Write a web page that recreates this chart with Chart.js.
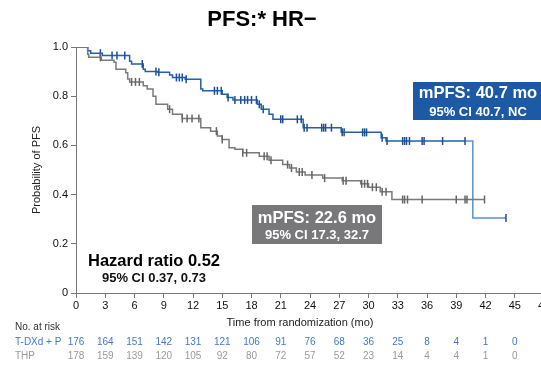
<!DOCTYPE html>
<html>
<head>
<meta charset="utf-8">
<script src="https://cdn.jsdelivr.net/npm/chart.js@4.4.1/dist/chart.umd.min.js"></script>
<style>
  html, body { margin: 0; padding: 0; background: #fff; overflow: hidden; }
  #wrap { position: absolute; left: 0; top: 0; width: 560px; height: 372px; }
</style>
</head>
<body>
<div id="wrap"><canvas id="c"></canvas></div>
<script>
// Kaplan-Meier PFS, HR-negative subgroup
const timeTicks = [0, 3, 6, 9, 12, 15, 18, 21, 24, 27, 30, 33, 36, 39, 42, 45];
const riskTDXd = [176, 164, 151, 142, 131, 121, 106, 91, 76, 68, 36, 25, 8, 4, 1, 0];
const riskTHP  = [178, 159, 139, 120, 105, 92, 80, 72, 57, 52, 23, 14, 4, 4, 1, 0];

// T-DXd + P: event times (mo) and survival after each event
const tdxdEventTimes = [1.2, 1.5, 2.7, 5.5, 5.7, 6.9, 7.1, 8.4, 9.6, 9.9, 11.2, 12.8, 13.0, 15.0, 15.5, 16.1, 18.6, 19.0, 19.8, 20.2, 23.3, 27.2, 31.3, 31.8, 40.7];
const tdxdSurvival   = [0.985, 0.975, 0.965, 0.942, 0.931, 0.910, 0.900, 0.897, 0.886, 0.876, 0.869, 0.829, 0.822, 0.808, 0.795, 0.785, 0.767, 0.747, 0.727, 0.706, 0.672, 0.653, 0.631, 0.618, 0.305];
const tdxdCensorTimes = [2.5, 3.7, 4.2, 5.0, 6.8, 8.2, 8.5, 10.3, 10.6, 10.9, 11.3, 14.2, 14.5, 14.9, 15.6, 16.3, 16.9, 17.3, 17.6, 18.0, 18.5, 18.8, 19.2, 21.0, 21.2, 22.7, 23.1, 23.4, 23.7, 25.2, 25.4, 25.6, 26.2, 27.3, 27.5, 29.4, 29.6, 29.8, 31.4, 31.9, 33.5, 33.7, 33.9, 34.2, 35.5, 35.7, 37.6, 39.9, 44.1];

// THP: event times (mo) and survival after each event
const thpEventTimes = [1.2, 1.3, 2.6, 3.9, 4.1, 5.1, 5.3, 5.5, 6.9, 7.3, 7.9, 8.2, 9.4, 9.9, 10.9, 12.8, 13.8, 14.5, 15.0, 15.7, 16.3, 17.1, 18.8, 19.8, 21.2, 21.9, 22.6, 23.5, 25.3, 27.3, 29.2, 30.0, 31.2, 32.4];
const thpSurvival   = [0.971, 0.958, 0.946, 0.938, 0.910, 0.895, 0.870, 0.858, 0.842, 0.829, 0.800, 0.767, 0.747, 0.727, 0.709, 0.672, 0.658, 0.638, 0.624, 0.590, 0.584, 0.570, 0.556, 0.540, 0.522, 0.508, 0.492, 0.480, 0.467, 0.456, 0.444, 0.430, 0.412, 0.380];
const thpCensorTimes = [2.5, 5.7, 6.1, 6.5, 9.6, 10.9, 11.4, 11.9, 12.6, 14.4, 15.0, 17.1, 17.5, 19.3, 19.6, 20.0, 21.7, 22.1, 22.9, 23.2, 24.2, 25.5, 27.4, 27.7, 29.3, 29.6, 29.9, 30.4, 30.8, 31.4, 31.8, 33.5, 33.7, 34.0, 35.5, 39.0, 39.9, 40.1, 41.9];

const FONT = '"Liberation Sans", Arial, Helvetica, sans-serif';
const BLUE = '#2360ad';
const BLUE_DARK = '#1b4f99';
const BLUE_LIGHT = '#5b90d2';
const GREY = '#7a7a7a';
const GREY_DARK = '#666666';

// step-function value at time t
function survivalAt(times, surv, t) {
  let s = 1;
  for (let i = 0; i < times.length; i++) {
    if (times[i] <= t) s = surv[i]; else break;
  }
  return s;
}

// merge events and censorings into one sorted point list
function buildCurve(times, surv, censors) {
  const pts = [{ x: 0, y: 1, censor: false }];
  times.forEach((t, i) => pts.push({ x: t, y: surv[i], censor: false }));
  censors.forEach(t => pts.push({ x: t, y: survivalAt(times, surv, t), censor: true }));
  pts.sort((a, b) => a.x - b.x || (a.censor - b.censor));
  return pts;
}

const tdxdCurve = buildCurve(tdxdEventTimes, tdxdSurvival, tdxdCensorTimes);
const thpCurve = buildCurve(thpEventTimes, thpSurvival, thpCensorTimes);

// text drawn around the plot: title, axis titles, annotation boxes, risk table
const decorations = {
  id: 'decorations',
  afterDraw(chart) {
    const ctx = chart.ctx;
    const xs = chart.scales.x;
    ctx.save();
    ctx.textBaseline = 'middle';

    ctx.fillStyle = '#000';
    ctx.textAlign = 'center';
    ctx.font = 'bold 22px ' + FONT;
    ctx.fillText('PFS:* HR\u2212', 262, 20);

    ctx.save();
    ctx.translate(37, 170);
    ctx.rotate(-Math.PI / 2);
    ctx.font = '11px ' + FONT;
    ctx.fillStyle = '#222';
    ctx.fillText('Probability of PFS', 0, 0);
    ctx.restore();

    ctx.font = '11px ' + FONT;
    ctx.fillStyle = '#222';
    ctx.fillText('Time from randomization (mo)', 300, 323);

    // median annotation boxes
    ctx.fillStyle = '#1d5aa6';
    ctx.fillRect(413, 82, 132, 38);
    ctx.fillStyle = '#fff';
    ctx.font = 'bold 16.5px ' + FONT;
    ctx.fillText('mPFS: 40.7 mo', 478, 93.5);
    ctx.font = 'bold 13px ' + FONT;
    ctx.fillText('95% CI 40.7, NC', 478, 112);

    ctx.fillStyle = '#78787a';
    ctx.fillRect(252, 205, 130, 39);
    ctx.fillStyle = '#fff';
    ctx.font = 'bold 16.5px ' + FONT;
    ctx.fillText('mPFS: 22.6 mo', 317, 218);
    ctx.font = 'bold 13px ' + FONT;
    ctx.fillText('95% CI 17.3, 32.7', 317, 235);

    // hazard ratio
    ctx.fillStyle = '#000';
    ctx.font = 'bold 16.5px ' + FONT;
    ctx.fillText('Hazard ratio 0.52', 154, 261);
    ctx.font = 'bold 13px ' + FONT;
    ctx.fillStyle = '#111';
    ctx.fillText('95% CI 0.37, 0.73', 154, 278);

    // number at risk
    ctx.textAlign = 'left';
    ctx.font = '10px ' + FONT;
    ctx.fillStyle = '#333';
    ctx.fillText('No. at risk', 15, 327);
    ctx.fillStyle = '#4479c2';
    ctx.fillText('T-DXd + P', 15, 342);
    ctx.fillStyle = '#9a9a9a';
    ctx.fillText('THP', 15, 356);

    ctx.textAlign = 'center';
    timeTicks.forEach((t, i) => {
      const px = xs.getPixelForValue(t);
      ctx.fillStyle = '#4479c2';
      ctx.fillText(String(riskTDXd[i]), px, 342);
      ctx.fillStyle = '#9a9a9a';
      ctx.fillText(String(riskTHP[i]), px, 356);
    });
    ctx.restore();
  }
};

const censorRadius = c => (c.raw && c.raw.censor ? 4 : 0);

new Chart(document.getElementById('c'), {
  type: 'line',
  data: {
    datasets: [
      {
        label: 'THP',
        data: thpCurve,
        borderColor: GREY,
        borderWidth: 1.5,
        stepped: 'before',
        pointStyle: 'line',
        rotation: 90,
        pointRadius: censorRadius,
        pointBorderColor: GREY_DARK,
        pointBorderWidth: 1.5,
        pointHitRadius: 0,
        fill: false
      },
      {
        label: 'T-DXd + P',
        data: tdxdCurve,
        borderColor: BLUE,
        borderWidth: 1.5,
        stepped: 'before',
        pointStyle: 'line',
        rotation: 90,
        pointRadius: censorRadius,
        pointBorderColor: BLUE_DARK,
        pointBorderWidth: 1.5,
        pointHitRadius: 0,
        fill: false,
        segment: {
          borderColor: c => (c.p1.parsed.y < 0.5 ? BLUE_LIGHT : undefined)
        }
      }
    ]
  },
  options: {
    responsive: true,
    maintainAspectRatio: false,
    animation: false,
    events: [],
    layout: { padding: { top: 47, right: 16, left: 0, bottom: 0 } },
    plugins: {
      legend: { display: false },
      tooltip: { enabled: false },
      title: { display: false }
    },
    scales: {
      x: {
        type: 'linear',
        min: 0,
        max: 48,
        afterFit: s => { s.height = 79; },
        ticks: {
          stepSize: 3,
          padding: 1,
          color: '#111',
          font: { family: FONT, size: 11 },
          maxRotation: 0,
          autoSkip: false
        },
        grid: { drawOnChartArea: false, drawTicks: true, tickLength: 5, color: '#777' },
        border: { display: true, color: '#777', width: 1 }
      },
      y: {
        min: 0,
        max: 1,
        afterFit: s => { s.width = 76; },
        ticks: {
          stepSize: 0.2,
          padding: 3,
          color: '#111',
          font: { family: FONT, size: 11 },
          callback: v => (v === 0 ? '0' : v.toFixed(1))
        },
        grid: { drawOnChartArea: false, drawTicks: true, tickLength: 5, color: '#777' },
        border: { display: true, color: '#777', width: 1 }
      }
    }
  },
  plugins: [decorations]
});
</script>
</body>
</html>
